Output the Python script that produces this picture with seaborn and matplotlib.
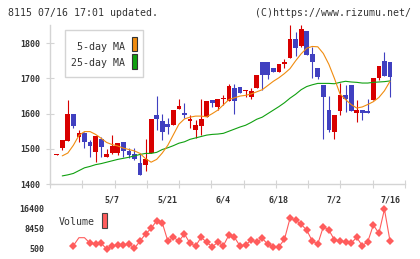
import numpy as np
import pandas as pd
import matplotlib
matplotlib.use("Agg")
import matplotlib.pyplot as plt
import seaborn as sns
from matplotlib.patches import Rectangle

# ---------------- data ----------------
title = "8115 07/16 17:01 updated."
credit = "(C)https://www.rizumu.net/"
date_labels = ["5/7", "5/21", "6/4", "6/18", "7/2", "7/16"]
date_label_pos = [10, 20, 30, 40, 50, 60]
price_ticks = [1400, 1500, 1600, 1700, 1800]
volume_ticks = [500, 8450, 16400]
legend_labels = ["5-day MA", "25-day MA"]

opens = [1483, 1503, 1523, 1599, 1534, 1544, 1519, 1490, 1529, 1478,
         1489, 1489, 1519, 1494, 1484, 1459, 1454, 1487, 1596, 1579,
         1570, 1568, 1612, 1601, 1580, 1553, 1565, 1591, 1639, 1618,
         1641, 1636, 1672, 1675, 1664, 1648, 1674, 1747, 1747, 1730,
         1717, 1742, 1759, 1812, 1793, 1835, 1769, 1729, 1681, 1610,
         1549, 1608, 1653, 1681, 1601, 1610, 1607, 1639, 1700, 1749,
         1746]
closes = [1485, 1525, 1599, 1565, 1546, 1520, 1509, 1536, 1506, 1485,
          1508, 1516, 1494, 1482, 1472, 1427, 1470, 1584, 1584, 1549,
          1563, 1610, 1622, 1596, 1586, 1569, 1585, 1636, 1629, 1642,
          1645, 1678, 1636, 1659, 1667, 1664, 1710, 1710, 1710, 1717,
          1742, 1747, 1812, 1786, 1840, 1768, 1747, 1705, 1648, 1553,
          1596, 1653, 1643, 1608, 1610, 1603, 1601, 1700, 1735, 1707,
          1705]
highs = [1485, 1525, 1639, 1599, 1553, 1548, 1525, 1536, 1533, 1499,
         1539, 1516, 1519, 1503, 1503, 1487, 1528, 1584, 1650, 1599,
         1587, 1610, 1641, 1629, 1596, 1582, 1641, 1636, 1639, 1642,
         1652, 1683, 1684, 1675, 1667, 1672, 1710, 1747, 1747, 1730,
         1742, 1755, 1852, 1833, 1852, 1835, 1790, 1729, 1681, 1650,
         1596, 1686, 1681, 1681, 1639, 1610, 1643, 1700, 1735, 1774,
         1746]
lows = [1483, 1497, 1523, 1560, 1520, 1501, 1478, 1463, 1478, 1476,
        1485, 1482, 1478, 1473, 1468, 1427, 1438, 1487, 1553, 1525,
        1542, 1568, 1612, 1587, 1560, 1530, 1539, 1591, 1618, 1610,
        1624, 1636, 1599, 1659, 1646, 1641, 1674, 1667, 1698, 1717,
        1717, 1730, 1759, 1764, 1790, 1768, 1700, 1698, 1528, 1549,
        1527, 1596, 1605, 1608, 1577, 1582, 1601, 1639, 1696, 1707,
        1648]

# moving averages as drawn (from session 1 to 60)
ma5 = [1480, 1488, 1510, 1538, 1549, 1549, 1541, 1530, 1518, 1512,
       1508, 1502, 1498, 1494, 1487, 1472, 1462, 1470, 1488, 1510,
       1540, 1570, 1585, 1590, 1593, 1593, 1591, 1600, 1610, 1625,
       1640, 1645, 1650, 1652, 1656, 1662, 1668, 1680, 1692, 1702,
       1714, 1728, 1750, 1770, 1786, 1791, 1790, 1771, 1740, 1700,
       1656, 1640, 1626, 1616, 1619, 1626, 1634, 1646, 1665, 1692]
ma25 = [1423, 1426, 1430, 1438, 1446, 1450, 1455, 1458, 1462, 1466,
        1470, 1473, 1476, 1480, 1484, 1487, 1487, 1490, 1498, 1503,
        1509, 1516, 1520, 1527, 1531, 1535, 1539, 1541, 1542, 1544,
        1550, 1556, 1562, 1567, 1575, 1584, 1590, 1600, 1610, 1620,
        1631, 1644, 1655, 1668, 1677, 1682, 1686, 1686, 1686, 1685,
        1689, 1692, 1690, 1689, 1687, 1687, 1689, 1690, 1691, 1693]

# volume as drawn (sessions 3 to 60)
volume = [1810, 5000, 5000, 2770, 2490, 2770, 500,
          1690, 2090, 2090, 2490, 780, 3680, 6460, 8700, 11750, 10950,
          3680, 5150, 3680, 6460, 2770, 1690, 5150, 3160, 1410, 3160,
          1810, 6060, 5150, 1690, 2090, 4080, 3160, 4750, 2370, 1180,
          1410, 4360, 12700, 12030, 10300, 8050, 3680, 2490, 9360, 8050,
          4080, 3680, 3400, 2770, 5150, 1810, 3400, 10040, 6740, 16280,
          3680]

# ---------------- style ----------------
sns.set_theme(style="white")
plt.rcParams["font.family"] = ["DejaVu Sans Mono", "DejaVu Sans"]

W, H = 420, 259
fig = plt.figure(figsize=(W / 100, H / 100), dpi=100)
fig.patch.set_facecolor("white")

def rect(x0, y0, x1, y1):
    return [x0 / W, 1 - y1 / H, (x1 - x0) / W, (y1 - y0) / H]

RED = "#d80000"
BLUE = "#4040c0"
ORANGE = "#f08c10"
GREEN = "#10a010"
VOLC = "#ff5c5c"
GRID = "#d4d4d4"
TXT = "#333333"

XL = (-1.206, 62.7)

# ---------------- main candle chart ----------------
ax = fig.add_axes(rect(50, 25, 405, 184))
n = len(opens)
idx = np.arange(n)
o = np.array(opens, float)
c = np.array(closes, float)
hi = np.array(highs, float)
lo = np.array(lows, float)
cols = [RED if cc >= oo else BLUE for oo, cc in zip(o, c)]
ax.vlines(idx, lo, hi, colors=cols, linewidth=0.8, zorder=2)
body_h = np.maximum(np.abs(c - o), 3.0)
ax.bar(idx, body_h, bottom=np.minimum(o, c), width=0.86, color=cols,
       linewidth=0, zorder=3)

ma_df = pd.DataFrame({"x": np.arange(1, n), "ma5": ma5, "ma25": ma25})
sns.lineplot(data=ma_df, x="x", y="ma25", ax=ax, color=GREEN, linewidth=0.8,
             zorder=4, legend=False)
sns.lineplot(data=ma_df, x="x", y="ma5", ax=ax, color=ORANGE, linewidth=0.8,
             zorder=5, legend=False)

ax.set_xlim(*XL)
ax.set_ylim(1400, 1852)
ax.set_xlabel("")
ax.set_ylabel("")
for s in ["top", "right"]:
    ax.spines[s].set_visible(False)
for s in ["left", "bottom"]:
    ax.spines[s].set_color(GRID)
    ax.spines[s].set_linewidth(1.0)
ax.set_yticks(price_ticks)
ax.set_yticklabels([str(t) for t in price_ticks])
ax.tick_params(axis="y", direction="inout", length=6, width=0.8, color=GRID,
               labelsize=6, labelcolor=TXT, pad=4, left=True)
ax.set_xticks(date_label_pos)
ax.set_xticklabels(date_labels)
ax.tick_params(axis="x", which="major", length=0, labelsize=6,
               labelcolor=TXT, pad=8)
ax.set_xticks(np.linspace(XL[0], XL[1], 12), minor=True)
ax.tick_params(axis="x", which="minor", direction="inout", length=6,
               width=0.8, color=GRID, bottom=True)
ax.set_facecolor("white")
for lab in ax.get_yticklabels() + ax.get_xticklabels():
    lab.set_fontweight("bold")

# ---------------- volume panel ----------------
axv = fig.add_axes(rect(50, 205, 405, 255))
vx = np.arange(3, 3 + len(volume))
vol_df = pd.DataFrame({"x": vx, "v": volume})
mk = [i for i in range(len(volume)) if i not in (1, 2)]
sns.lineplot(data=vol_df, x="x", y="v", ax=axv, color=VOLC, linewidth=0.8,
             marker="D", markersize=4.2, markeredgewidth=0, markevery=mk,
             legend=False)
axv.set_xlim(*XL)
axv.set_ylim(-1885, 17990)
axv.set_xlabel("")
axv.set_ylabel("")
for s in axv.spines.values():
    s.set_visible(False)
axv.set_xticks([])
axv.set_yticks(volume_ticks)
axv.set_yticklabels([str(t) for t in volume_ticks])
axv.tick_params(axis="y", length=0, labelsize=6, labelcolor=TXT, pad=4)
for lab in axv.get_yticklabels():
    lab.set_fontweight("bold")
axv.patch.set_alpha(0)

# ---------------- texts & legends ----------------
fs = 7.2
t_title = fig.text(8 / W, 1 - 12.5 / H, title, fontsize=fs, color=TXT,
                   va="center", ha="left")
t_credit = fig.text(411 / W, 1 - 12.5 / H, credit, fontsize=fs, color=TXT,
                    va="center", ha="right")

fig.add_artist(Rectangle((65 / W, 1 - 77.3 / H), 78.3 / W, 47.3 / H,
                         transform=fig.transFigure, facecolor="white",
                         edgecolor=GRID, linewidth=1.0, zorder=10))
t_l1 = fig.text(125 / W, 1 - 46.5 / H, legend_labels[0], fontsize=fs,
                color=TXT, ha="right", va="center", zorder=11)
t_l2 = fig.text(125 / W, 1 - 63.3 / H, legend_labels[1], fontsize=fs,
                color=TXT, ha="right", va="center", zorder=11)
fig.add_artist(Rectangle((131.7 / W, 1 - 50.7 / H), 5.4 / W, 13.4 / H,
                         transform=fig.transFigure, facecolor=ORANGE,
                         edgecolor="#333333", linewidth=0.8, zorder=11))
fig.add_artist(Rectangle((131.7 / W, 1 - 69.3 / H), 5.4 / W, 15 / H,
                         transform=fig.transFigure, facecolor=GREEN,
                         edgecolor="#333333", linewidth=0.8, zorder=11))

t_vol = fig.text(58.5 / W, 1 - 222.3 / H, "Volume", fontsize=fs, color=TXT,
                 ha="left", va="center", zorder=11)
fig.add_artist(Rectangle((101.7 / W, 1 - 228.3 / H), 5.6 / W, 15 / H,
                         transform=fig.transFigure, facecolor=VOLC,
                         edgecolor="#444444", linewidth=0.8, zorder=11))

# calibrate text widths to the reference pixel widths
fig.canvas.draw()
r = fig.canvas.get_renderer()
for t, target in [(t_title, 149.0), (t_credit, 155.0), (t_l1, 48.3),
                  (t_l2, 53.6), (t_vol, 35.6)]:
    w = t.get_window_extent(r).width
    if w > 0:
        t.set_fontsize(t.get_fontsize() * target / w)

fig.savefig("out.png", dpi=100)
